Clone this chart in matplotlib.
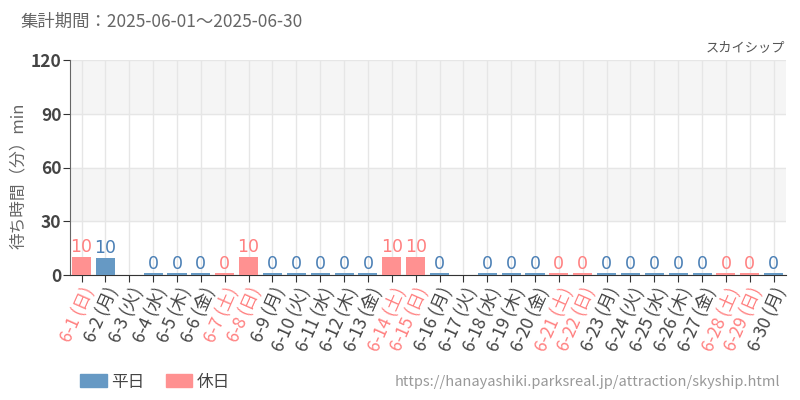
import matplotlib
matplotlib.use("Agg")
import matplotlib.pyplot as plt
from matplotlib.patches import Patch

plt.rcParams['font.family'] = ['Noto Sans CJK JP', 'DejaVu Sans']

# data
days = list(range(1, 31))
weekdays = ['日', '月', '火', '水', '木', '金', '土'] * 5
weekdays = weekdays[:30]
holiday = [w in ('土', '日') for w in weekdays]
waits = [10, 9.6, None, 0, 0, 0, 0, 10, 0, 0, 0, 0, 0, 10, 10,
         0, None, 0, 0, 0, 0, 0, 0, 0, 0, 0, 0, 0, 0, 0]

labels = [f"6-{d} ({w})" for d, w in zip(days, weekdays)]

C_WD = '#6699c4'
C_HD = '#ff9191'
T_WD = '#4a7fb5'
T_HD = '#ff8080'

fig = plt.figure(figsize=(8, 4), dpi=100)
ax = fig.add_axes([0.087, 0.3125, 0.895, 0.5375])

ax.axhspan(90, 120, color='#f5f5f5', zorder=0)
ax.axhspan(30, 60, color='#f5f5f5', zorder=0)

for i, v in enumerate(waits):
    if v is None:
        continue
    col = C_HD if holiday[i] else C_WD
    h = max(v, 0.9)
    ax.bar(i, h, width=0.8, color=col, zorder=3)
    ax.text(i, h + 0.4, f"{v:.0f}", ha='center', va='bottom', fontsize=12.5,
            color=T_HD if holiday[i] else T_WD,
            family=['Liberation Sans Narrow', 'DejaVu Sans'], zorder=4)

ax.set_xlim(-0.5, 29.5)
ax.set_ylim(0, 120)
ax.set_yticks([0, 30, 60, 90, 120])
ax.set_xticks(range(30))
ax.set_xticklabels(labels, rotation=66, ha='right', rotation_mode='anchor', fontsize=12.5)
for t, hd in zip(ax.get_xticklabels(), holiday):
    t.set_color(T_HD if hd else '#444444')
for t in ax.get_yticklabels():
    t.set_fontsize(12.5)
    t.set_color('#444444')
    t.set_fontweight('bold')

ax.grid(True, color='#e6e6e6', linewidth=1, zorder=1)
ax.set_axisbelow(True)
for s in ('top', 'right'):
    ax.spines[s].set_visible(False)
ax.spines['left'].set_color('#666666')
ax.spines['bottom'].set_color('#333333')
ax.tick_params(axis='both', length=5, color='#333333')
ax.tick_params(axis='x', pad=2)
ax.tick_params(axis='y', pad=1)

ax.set_ylabel('待ち時間（分）min', fontsize=12, color='#666666')
ax.yaxis.set_label_coords(-0.06, 0.46)

fig.text(0.025, 0.945, '集計期間：2025-06-01～2025-06-30', fontsize=12.5, color='#666666',
         va='center')
fig.text(0.982, 0.88, 'スカイシップ', fontsize=9.5, color='#555555', ha='right', va='center')
fig.text(0.975, 0.045, 'https://hanayashiki.parksreal.jp/attraction/skyship.html',
         fontsize=10.5, color='#999999', ha='right', va='center')

handles = [Patch(color=C_WD, label='平日'), Patch(color=C_HD, label='休日')]
fig.legend(handles=handles, loc='center left', bbox_to_anchor=(0.1, 0.045), ncol=2,
           frameon=False, fontsize=12, handlelength=1.6, handleheight=0.8,
           columnspacing=1.3, handletextpad=0.25, borderpad=0, borderaxespad=0,
           labelcolor='#444444')

fig.savefig('out.png', dpi=100)
